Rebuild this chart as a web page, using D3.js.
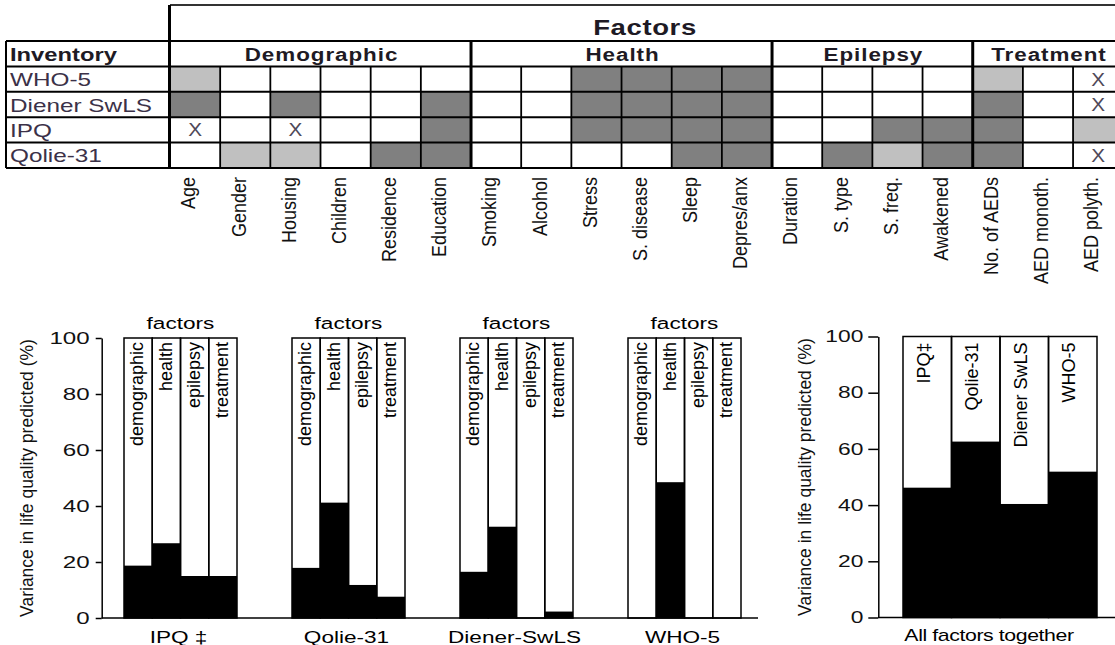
<!DOCTYPE html>
<html><head><meta charset="utf-8">
<script src="https://cdn.jsdelivr.net/npm/d3@7"></script>
<style>
body{margin:0;background:#fff}
svg{display:block}
text{font-family:"Liberation Sans",Arial,Helvetica,sans-serif}
</style>
</head><body>
<svg id="c" width="1115" height="645"></svg>
<script>
// ---------------- DATA ----------------
const inventories = ["WHO-5", "Diener SwLS", "IPQ", "Qolie-31"];
const groupNames = ["Demographic", "Health", "Epilepsy", "Treatment"];
const groupSizes = [6, 6, 4, 3];
const factorLabels = ["Age", "Gender", "Housing", "Children", "Residence", "Education",
  "Smoking", "Alcohol", "Stress", "S. disease", "Sleep", "Depres/anx",
  "Duration", "S. type", "S. freq.", "Awakened",
  "No. of AEDs", "AED monoth.", "AED polyth."];
// "" empty, "L" light grey, "D" dark grey, "X" cross
const cellsWHO5   = ["L","","","","","",  "","","D","D","D","D",  "","","","",   "L","","X"];
const cellsDiener = ["D","","D","","","D", "","","D","D","D","D",  "","","","",   "D","","X"];
const cellsIPQ    = ["X","","X","","","D", "","","D","D","D","D",  "","","D","D", "D","","L"];
const cellsQolie  = ["","L","L","","D","D", "","","","","D","D",   "","D","L","D", "D","","X"];
const cellRows = [cellsWHO5, cellsDiener, cellsIPQ, cellsQolie];

const panelNames = ["IPQ \u2021", "Qolie-31", "Diener-SwLS", "WHO-5"];
const factorTypes = ["demographic", "health", "epilepsy", "treatment"];
const valsIPQ    = [18.7, 26.7, 15.0, 15.0];
const valsQolie  = [17.9, 41.2, 11.8, 7.6];
const valsDiener = [16.5, 32.6, 0, 2.3];
const valsWHO5   = [0, 48.5, 0, 0];
const panelValues = [valsIPQ, valsQolie, valsDiener, valsWHO5];

const allLabels = ["IPQ\u2021", "Qolie-31", "Diener SwLS", "WHO-5"];
const allValues = [46.2, 62.6, 40.4, 51.9];
const yTicks = [0, 20, 40, 60, 80, 100];

// ---------------- DRAW ----------------
const svg = d3.select("#c");
svg.append("rect").attr("width", 1115).attr("height", 645).attr("fill", "#fff");

function htext(g, x, y, str, o) {
  return g.append("text")
    .attr("transform", `translate(${x},${y}) scale(${o.sx || 1},1)`)
    .attr("text-anchor", o.anchor || "middle")
    .attr("font-size", o.size)
    .attr("font-weight", o.bold ? "bold" : "normal")
    .attr("letter-spacing", o.ls || 0)
    .attr("fill", o.fill || "#000")
    .text(str);
}
function vtext(g, x, y, str, o) {
  return g.append("text")
    .attr("transform", `translate(${x},${y}) scale(${o.sx || 1},1) rotate(-90)`)
    .attr("text-anchor", o.anchor || "end")
    .attr("dy", "0.35em")
    .attr("font-size", o.size)
    .attr("fill", o.fill || "#000")
    .text(str);
}

// ---- table ----
const T = svg.append("g");
const colX = d3.scaleBand().domain(d3.range(factorLabels.length)).range([170, 170 + 50.17 * factorLabels.length]);
const rowY = d3.scaleBand().domain(d3.range(inventories.length + 1)).range([41, 168]);
const groupStart = [];
groupSizes.reduce((acc, n) => { groupStart.push(acc); return acc + n; }, 0);

const fillOf = { "L": "#c0c0c0", "D": "#808080" };
cellRows.forEach((row, r) => {
  row.forEach((code, c) => {
    const x = colX(c), y = rowY(r + 1);
    if (fillOf[code]) {
      T.append("rect").attr("x", x).attr("y", y).attr("width", colX.bandwidth()).attr("height", rowY.bandwidth())
        .attr("fill", fillOf[code]);
    } else if (code === "X") {
      htext(T, x + colX.bandwidth() / 2, y + rowY.bandwidth() / 2 + 6.5, "X", { size: 18, sx: 1.15, fill: "#4e4858" });
    }
  });
});

// grid lines
const yEdges = d3.range(inventories.length + 1).map(i => rowY(i)).concat([168]);
yEdges.forEach(y => {
  T.append("line").attr("x1", 6).attr("x2", 1115).attr("y1", y).attr("y2", y).attr("stroke", "#000").attr("stroke-width", 2);
});
T.append("line").attr("x1", 170).attr("x2", 1115).attr("y1", 5).attr("y2", 5).attr("stroke", "#333").attr("stroke-width", 2);
T.append("line").attr("x1", 6).attr("x2", 6).attr("y1", 41).attr("y2", 168).attr("stroke", "#000").attr("stroke-width", 2);
T.append("line").attr("x1", 169.5).attr("x2", 169.5).attr("y1", 5).attr("y2", 168).attr("stroke", "#000").attr("stroke-width", 3);
for (let c = 1; c < factorLabels.length; c++) {
  const isGroup = groupStart.includes(c);
  T.append("line").attr("x1", colX(c)).attr("x2", colX(c))
    .attr("y1", isGroup ? 41 : rowY(1)).attr("y2", 168)
    .attr("stroke", "#000").attr("stroke-width", isGroup ? 3 : 1.8);
}

// table texts
htext(T, 645, 35, "Factors", { size: 22, bold: true, sx: 1.25, fill: "#1e1a24", ls: 0.5 });
htext(T, 10, 61, "Inventory", { size: 19, bold: true, sx: 1.25, anchor: "start", fill: "#1e1a24" });
groupNames.forEach((gname, gi) => {
  const x0 = colX(groupStart[gi]);
  const x1 = colX(groupStart[gi] + groupSizes[gi] - 1) + colX.bandwidth();
  htext(T, (x0 + x1) / 2 + 1, 61, gname, { size: 19, bold: true, sx: 1.18, ls: 0.8, fill: "#1e1a24" });
});
inventories.forEach((name, r) => {
  htext(T, 10, rowY(r + 1) + rowY.bandwidth() / 2 + 7, name, { size: 19, sx: 1.28, anchor: "start", fill: "#3b3148" });
});
factorLabels.forEach((lab, c) => {
  vtext(T, colX(c) + colX.bandwidth() / 2 - 7, 177, lab, { size: 18, sx: 1.15, fill: "#111" });
});

// ---- bottom left panels ----
const B = svg.append("g");
const yL = d3.scaleLinear().domain([0, 100]).range([618, 338]);
const xPanel = d3.scaleBand().domain(panelNames).range([124, 741]).paddingInner(55 / 168).paddingOuter(0);
const xInner = d3.scaleBand().domain(factorTypes).range([0, xPanel.bandwidth()]);

panelNames.forEach((pname, pi) => {
  const g = B.append("g").attr("transform", `translate(${xPanel(pname)},0)`);
  const vals = panelValues[pi];
  g.selectAll("rect.bg").data(factorTypes).join("rect")
    .attr("x", d => xInner(d)).attr("y", yL(100)).attr("width", xInner.bandwidth()).attr("height", yL(0) - yL(100))
    .attr("fill", "#fff");
  g.selectAll("rect.val").data(vals).join("rect")
    .attr("x", (d, i) => xInner(factorTypes[i])).attr("y", d => yL(d))
    .attr("width", xInner.bandwidth()).attr("height", d => yL(0) - yL(d)).attr("fill", "#000");
  g.selectAll("rect.ol").data(factorTypes).join("rect")
    .attr("x", d => xInner(d)).attr("y", yL(100)).attr("width", xInner.bandwidth()).attr("height", yL(0) - yL(100))
    .attr("fill", "none").attr("stroke", "#000").attr("stroke-width", 1.5);
  factorTypes.forEach(ft => {
    vtext(g, xInner(ft) + xInner.bandwidth() / 2 - 1, yL(100) + 4, ft, { size: 18 });
  });
  htext(B, xPanel(pname) + xPanel.bandwidth() / 2, 329, "factors", { size: 17, sx: 1.33 });
  htext(B, xPanel(pname) + xPanel.bandwidth() / 2 - 2, 643, pname, { size: 16.5, sx: 1.37 });
});

const axL = B.append("g").attr("transform", "translate(101.7,0)")
  .call(d3.axisLeft(yL).tickValues(yTicks).tickSize(6).tickSizeOuter(0).tickFormat(d3.format("d")));
axL.select(".domain").attr("stroke-width", 1.5);
axL.selectAll(".tick line").attr("stroke-width", 1.5);
axL.selectAll(".tick text").attr("font-size", 17).attr("font-family", null)
  .attr("x", -12 / 1.42).attr("transform", "scale(1.42,1)").attr("fill", "#111");
B.append("line").attr("x1", 101.7).attr("x2", 758).attr("y1", yL(0)).attr("y2", yL(0)).attr("stroke", "#000").attr("stroke-width", 1.5);
vtext(B, 27, (yL(0) + yL(100)) / 2, "Variance in life quality predicted (%)", { size: 17.5, anchor: "middle", fill: "#111" });

// ---- right panel ----
const R = svg.append("g");
const yR = d3.scaleLinear().domain([0, 100]).range([617.5, 336.5]);
const xR = d3.scaleBand().domain(allLabels).range([903, 1097]);
R.selectAll("rect.bg").data(allLabels).join("rect")
  .attr("x", d => xR(d)).attr("y", yR(100)).attr("width", xR.bandwidth()).attr("height", yR(0) - yR(100)).attr("fill", "#fff");
R.selectAll("rect.val").data(allValues).join("rect")
  .attr("x", (d, i) => xR(allLabels[i])).attr("y", d => yR(d)).attr("width", xR.bandwidth())
  .attr("height", d => yR(0) - yR(d)).attr("fill", "#000");
R.selectAll("rect.ol").data(allLabels).join("rect")
  .attr("x", d => xR(d)).attr("y", yR(100)).attr("width", xR.bandwidth()).attr("height", yR(0) - yR(100))
  .attr("fill", "none").attr("stroke", "#000").attr("stroke-width", 1.5);
allLabels.forEach(l => vtext(R, xR(l) + xR.bandwidth() / 2 - 4, yR(100) + 6, l, { size: 18 }));
const axR = R.append("g").attr("transform", "translate(878.3,0)")
  .call(d3.axisLeft(yR).tickValues(yTicks).tickSize(10).tickSizeOuter(0).tickFormat(d3.format("d")));
axR.select(".domain").attr("stroke-width", 1.5);
axR.selectAll(".tick line").attr("stroke-width", 1.5);
axR.selectAll(".tick text").attr("font-size", 16.5).attr("font-family", null)
  .attr("x", -15 / 1.38).attr("transform", "scale(1.38,1)").attr("fill", "#111");
R.append("line").attr("x1", 878.3).attr("x2", 1115).attr("y1", yR(0)).attr("y2", yR(0)).attr("stroke", "#000").attr("stroke-width", 1.5);
vtext(R, 805, (yR(0) + yR(100)) / 2, "Variance in life quality predicted (%)", { size: 17.5, anchor: "middle", fill: "#111" });
htext(R, 989, 641, "All factors together", { size: 16, sx: 1.33, ls: -0.3 });
</script>
</body></html>
